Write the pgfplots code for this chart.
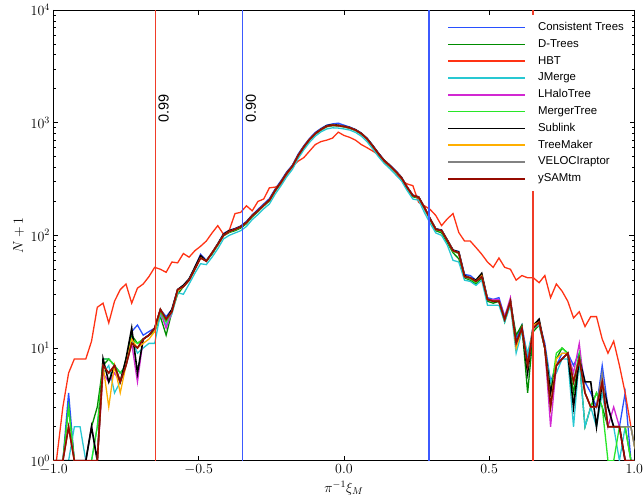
\RequirePackage{fix-cm}
\documentclass[border=0pt]{standalone}
\usepackage{fontspec}
\setmainfont{Liberation Sans}
\usepackage{pgfplots}
\usepackage{pgfplotstable}
\pgfplotsset{compat=1.18}

\definecolor{cCT}{RGB}{40,80,255}
\definecolor{cDT}{RGB}{0,140,0}
\definecolor{cHBT}{RGB}{255,50,20}
\definecolor{cJM}{RGB}{40,200,210}
\definecolor{cLH}{RGB}{210,40,210}
\definecolor{cMT}{RGB}{40,230,40}
\definecolor{cSL}{RGB}{0,0,0}
\definecolor{cTM}{RGB}{255,175,0}
\definecolor{cVR}{RGB}{130,130,130}
\definecolor{cYS}{RGB}{150,10,0}
\definecolor{vRed}{RGB}{240,60,40}
\definecolor{vBlue}{RGB}{60,90,255}

\pgfplotstableread{
x ct dt hbt jm lh mt sl tm vr ys
-1.01 1 1 1 1 1 1 1 1 1 1
-0.99 1 1 1 1 1 1 1 1 1 1
-0.9677 1 1 3 1 1 1 1 1 1 1
-0.9480 4 3 6 1 2 3 1 2 2 2
-0.9282 1 1 8 2 1 1 1 1 1 1
-0.9085 1 1 8 2 1 1 1 1 1 1
-0.8887 1 1 8 1 1 1 1 1 1 1
-0.8690 1 2 11.5 1 2 1 2 1 1 1
-0.8492 1 3 23 2 1 2 1 1 1 1
-0.8294 8 7 25 6 6 8 8 7 7 7
-0.8097 8 8 16.7 7 5 8 5 3 6 6
-0.7899 7 7 26 4 6 7 7 7 7 7
-0.7702 6 5 33 5 5 6 5 4 5 5
-0.7504 7 8 37 7 7 7 8 7 7 7
-0.7307 14 13 25 12 11 12 15 12 11 11
-0.7109 16 11 34 9 5 11 6 10 10 10
-0.6911 13 12 37 10 12 12 12 11 12 12
-0.6714 14 13 43 11 13 13 13 12 13 13
-0.6516 15 14 52 11 14 14 15 14 15 15
-0.6319 22 19 50 20 21 21 22 22 22 22
-0.6121 19 13 47 16 15 17 18 18 18 18
-0.5923 22 21 58 20 21 21 22 21 21 21
-0.5726 33 30 57 31 32 32 33 32 33 33
-0.5528 36 35 69 30 35 35 36 35 35 35
-0.5331 41 40 64 37 40 40 41 40 40 40
-0.5133 52 51 73 46 51 50 52 50 50 50
-0.4936 68 64 80 56 66 64 66 63 63 63
-0.4738 60 60 89 55 59 59 59 59 59 59
-0.4540 70 68 105 64 69 69 70 70 70 70
-0.4343 84 82 122 76 83 82 84 83 83 83
-0.4145 104 99 102 93 100 100 102 100 100 100
-0.3948 111 106 111 100 108 107 110 108 108 108
-0.3750 115 110 156 105 113 112 114 113 113 113
-0.3553 121 116 160 110 119 118 120 119 119 119
-0.3355 133 127 183 120 130 129 131 130 130 130
-0.3157 152 146 165 138 149 148 150 149 149 149
-0.2960 170 162 200 153 165 164 166 165 165 165
-0.2762 190 182 210 172 186 184 186 185 185 185
-0.2565 212 202 264 190 206 204 206 205 205 205
-0.2367 258 246 268 232 251 249 252 250 250 250
-0.2169 305 290 280 275 296 294 297 295 295 295
-0.1972 365 350 340 330 356 354 357 355 355 355
-0.1774 420 405 410 385 411 409 412 410 410 410
-0.1577 525 505 455 480 512 508 512 510 510 510
-0.1379 625 600 490 575 612 608 612 610 610 610
-0.1182 725 700 560 670 712 708 712 710 710 710
-0.0984 820 790 640 760 805 798 805 800 800 800
-0.0786 890 860 680 830 875 868 875 870 870 870
-0.0589 950 920 700 880 935 928 940 930 930 930
-0.0391 975 940 730 900 955 948 960 950 950 950
-0.0194 990 935 824 895 945 938 950 940 940 940
0.0004 950 915 770 880 925 923 930 925 925 925
0.0202 915 890 740 860 900 898 905 900 900 900
0.0399 870 850 700 820 860 858 865 860 860 860
0.0597 810 790 640 760 800 798 805 800 800 800
0.0794 730 710 600 680 720 718 725 720 720 720
0.0992 630 610 560 585 620 618 625 620 620 620
0.1189 540 520 520 500 530 528 533 530 530 530
0.1387 465 450 450 435 460 458 463 460 460 460
0.1585 420 405 410 390 415 413 418 415 415 415
0.1782 375 360 365 345 370 368 372 370 370 370
0.1980 330 318 306 305 325 323 327 325 325 325
0.2177 270 262 286 250 267 265 268 267 267 267
0.2375 228 220 276 210 225 223 226 225 225 225
0.2573 220 214 196 205 218 216 219 218 218 218
0.2770 178 173 183 160 177 176 178 177 177 177
0.2968 140 137 170 128 140 139 141 140 140 140
0.3165 114 110 150 105 112 112 114 113 113 113
0.3363 112 105 122 100 110 108 111 110 110 110
0.3560 91 86 140 82 90 89 91 90 90 90
0.3758 74 70 156 60 73 72 74 73 73 73
0.3956 72 62 106 58 70 69 71 70 70 70
0.4153 45 42 89 40 43 43 44 43 43 43
0.4351 44 40 89 39 41 41 42 42 42 42
0.4548 40 37 78 36 39 38 40 39 39 39
0.4746 45 42 68 40 44 43 46 44 43 43
0.4944 28 26 58 24 27 27 27 27 27 27
0.5141 27 25 52 24 27 26 26 26 26 26
0.5339 28 26 63 24 27 26 26 26 26 26
0.5536 19 17 52 17 19 18 18 18 18 18
0.5734 26 26 50 24 28 26 26 26 26 26
0.5931 12 13 40 9 11 11 11 10 11 11
0.6129 16 16 44 14 15 15 15 15 15 15
0.6327 8 4 42 9 7 7 6 7 7 7
0.6524 16 14 42 15 15 15 16 16 15 15
0.6722 17 16 38 16 17 17 18 17 17 17
0.6919 11 10 44 10 10 10 10 10 10 10
0.7117 5 4 28 5 2 4 4 3 3 3
0.7315 7 8 37 6 7 9 7 8 7 7
0.7512 9 10 32 8 8 10 8 9 8 8
0.7710 9 9 26 8 9 9 9 9 9 9
0.7907 7 4 18.5 2 6 5 3 5 5 5
0.8105 9 8 21 8 11 9 8 8 8 8
0.8302 5 2 15.5 2 4 4 5 4 4 4
0.8500 4 3 19 3 3 3 5 3 3 3
0.8698 3 4 19 2 3 4 2 3 3 3
0.8895 7 3 12 4 5 3 5 5 6 5
0.9093 3 2 9 2 2 1 3 2 2 2
0.9290 2 2 11.5 2 3 1 2 2 2 2
0.9488 2 2 7 1 2 2 2 2 2 2
0.9685 4 2 4 2 1 2 1 2 2 1
0.9883 1 1 2 2 1 1 1 2 2 1
1.01 1 1 1 1 1 1 1 1 1 1
}\data

\begin{document}
\begin{tikzpicture}
\useasboundingbox (-53.5pt,-40.3pt) rectangle (590.5pt,460.7pt);
\begin{axis}[
  at={(0pt,0pt)}, anchor=south west,
  scale only axis, width=580.8pt, height=450.7pt,
  xmin=-1, xmax=1, ymode=log, ymin=1, ymax=10000,
  xtick={-1,-0.5,0,0.5,1},
  ytick={1,10,100,1000,10000},
  xticklabel style={/pgf/number format/fixed, /pgf/number format/fixed zerofill, /pgf/number format/precision=1},
  tick align=inside, tick pos=both,
  major tick length=5pt, minor tick length=2.7pt,
  tick style={black, line width=0.7pt},
  axis line style={line width=0.9pt},
  tick label style={font=\fontsize{14}{16}\selectfont},
  label style={font=\fontsize{14}{16}\selectfont},
  xlabel={$\pi^{-1}\xi_M$}, ylabel={$N+1$},
  legend cell align=left,
  legend image code/.code={\draw[#1, line width=1.5pt] (0pt,0pt) -- (77pt,0pt);},
  legend style={draw=none, fill=white, at={(0.9926,0.9889)}, anchor=north east,
    inner xsep=6pt, inner ysep=7pt, row sep=6pt, column sep=12pt,
    font=\fontsize{11.4}{13}\selectfont,
    nodes={inner sep=0pt, text height=8.3pt, text depth=2.5pt}},
  every axis plot/.append style={line width=1.3pt},
]
\addplot[cCT] table[x=x,y=ct]{\data};
\addlegendentry{Consistent Trees}
\addplot[cDT] table[x=x,y=dt]{\data};
\addlegendentry{D-Trees}
\addplot[cHBT] table[x=x,y=hbt]{\data};
\addlegendentry{HBT}
\addplot[cJM] table[x=x,y=jm]{\data};
\addlegendentry{JMerge}
\addplot[cLH] table[x=x,y=lh]{\data};
\addlegendentry{LHaloTree}
\addplot[cMT] table[x=x,y=mt]{\data};
\addlegendentry{MergerTree}
\addplot[cSL, line width=1.6pt] table[x=x,y=sl]{\data};
\addlegendentry{Sublink}
\addplot[cTM] table[x=x,y=tm]{\data};
\addlegendentry{TreeMaker}
\addplot[cVR] table[x=x,y=vr]{\data};
\addlegendentry{VELOCIraptor}
\addplot[cYS, line width=1.6pt] table[x=x,y=ys]{\data};
\addlegendentry{ySAMtm}

\addplot[vRed, line width=1.5pt, forget plot] coordinates {(-0.648,1) (-0.648,10000)};
\addplot[vBlue, line width=1.5pt, forget plot] coordinates {(-0.349,1) (-0.349,10000)};
\addplot[vBlue, line width=1.5pt, forget plot] coordinates {(0.293,1) (0.293,10000)};
\addplot[vRed, line width=1.5pt, forget plot] coordinates {(0.652,1) (0.652,10000)};

\node[rotate=90, anchor=north west, inner sep=0pt, font=\fontsize{14.5}{17}\selectfont] at (axis cs:-0.639,1000) {0.99};
\node[rotate=90, anchor=north west, inner sep=0pt, font=\fontsize{14.5}{17}\selectfont] at (axis cs:-0.339,1000) {0.90};
\end{axis}
\end{tikzpicture}
\end{document}
